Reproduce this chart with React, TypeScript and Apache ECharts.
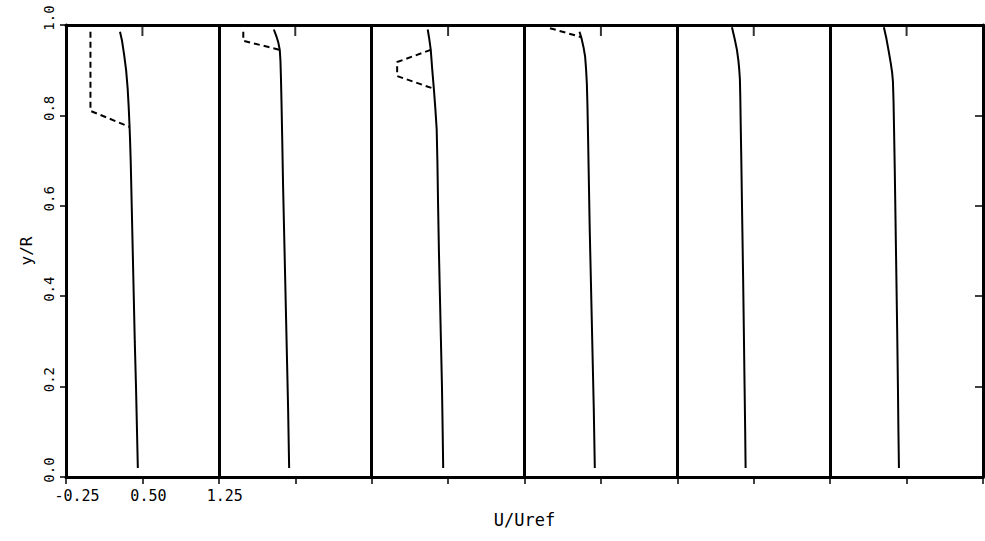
import React, { useEffect, useRef } from "react";
import * as echarts from "echarts";

// Velocity profiles U/Uref against y/R, one panel per station.
// Each panel spans 1.5 units of U/Uref; panel k is shifted right by k * PANEL_SPAN.
const PANEL_SPAN = 1.5;
const PANEL_COUNT = 6;
const U_MIN = -0.25;

// Solid profiles: [U/Uref, y/R]
const solid1 = [[0.28, 0.985], [0.3, 0.965], [0.32, 0.935], [0.34, 0.9], [0.355, 0.86], [0.365, 0.82], [0.372, 0.785], [0.378, 0.75], [0.385, 0.7], [0.395, 0.6], [0.405, 0.5], [0.415, 0.4], [0.425, 0.3], [0.437, 0.2], [0.447, 0.1], [0.455, 0.02]];
const solid2 = [[0.29, 0.99], [0.315, 0.975], [0.335, 0.96], [0.348, 0.945], [0.355, 0.92], [0.36, 0.88], [0.365, 0.83], [0.372, 0.75], [0.38, 0.65], [0.39, 0.55], [0.4, 0.45], [0.41, 0.35], [0.42, 0.25], [0.43, 0.15], [0.44, 0.02]];
const solid3 = [[0.3, 0.99], [0.315, 0.97], [0.33, 0.945], [0.345, 0.9], [0.36, 0.86], [0.375, 0.815], [0.388, 0.77], [0.395, 0.7], [0.402, 0.6], [0.41, 0.5], [0.42, 0.4], [0.43, 0.3], [0.44, 0.2], [0.447, 0.1], [0.452, 0.02]];
const solid4 = [[0.29, 0.985], [0.31, 0.97], [0.33, 0.95], [0.345, 0.93], [0.355, 0.9], [0.362, 0.87], [0.368, 0.82], [0.374, 0.75], [0.382, 0.65], [0.39, 0.55], [0.4, 0.45], [0.41, 0.35], [0.42, 0.25], [0.43, 0.15], [0.44, 0.02]];
const solid5 = [[0.286, 0.995], [0.312, 0.97], [0.335, 0.945], [0.35, 0.92], [0.358, 0.9], [0.364, 0.88], [0.368, 0.84], [0.372, 0.78], [0.378, 0.7], [0.386, 0.58], [0.395, 0.45], [0.403, 0.32], [0.41, 0.2], [0.416, 0.1], [0.42, 0.02]];
const solid6 = [[0.277, 0.995], [0.302, 0.97], [0.326, 0.94], [0.345, 0.915], [0.358, 0.895], [0.366, 0.875], [0.372, 0.83], [0.377, 0.77], [0.384, 0.68], [0.392, 0.56], [0.4, 0.44], [0.408, 0.32], [0.415, 0.2], [0.42, 0.1], [0.425, 0.02]];

// Dashed profiles near the wall
const dashed1 = [[-0.01, 0.985], [-0.01, 0.81], [0.37, 0.775]];
const dashed2 = [[-0.01, 0.985], [-0.01, 0.965], [0.35, 0.945]];
const dashed3 = [[0.33, 0.945], [0.0, 0.918], [0.0, 0.887], [0.36, 0.859]];
const dashed4 = [[0.0, 0.993], [0.31, 0.973]];

const solidProfiles = [solid1, solid2, solid3, solid4, solid5, solid6];
const dashedProfiles = [dashed1, dashed2, dashed3, dashed4];

const yTicks = [0, 0.2, 0.4, 0.6, 0.8, 1.0];
const rightTicks = [0.2, 0.4, 0.6, 0.8];
const labelledTicks = [-0.25, 0.5, 1.25];

const FONT = "DejaVu Sans Mono";
const FRAME = { color: "#000", width: 3 };
const TICK = { color: "#000", width: 1.5 };

// Place a panel-local U/Uref value on the shared axis (which starts at 0).
const shift = (pts: number[][], panel: number) =>
  pts.map(([u, y]) => [u - U_MIN + panel * PANEL_SPAN, y]);

export default function App() {
  const ref = useRef<HTMLDivElement>(null);

  useEffect(() => {
    if (!ref.current) return;
    const chart = echarts.init(ref.current, undefined, { renderer: "svg" });

    const total = PANEL_COUNT * PANEL_SPAN;
    const separators = Array.from({ length: PANEL_COUNT - 1 }, (_, i) => (i + 1) * PANEL_SPAN);
    const midTicks = Array.from({ length: PANEL_COUNT }, (_, i) => i * PANEL_SPAN + PANEL_SPAN / 2);

    const series: any[] = [];
    solidProfiles.forEach((p, i) => {
      series.push({
        type: "line",
        data: shift(p, i),
        symbol: "none",
        lineStyle: { color: "#000", width: 2 },
        silent: true,
        ...(i === 0
          ? {
              markLine: {
                silent: true,
                symbol: ["none", "none"],
                label: { show: false },
                lineStyle: { type: "solid", color: "#000", width: 3 },
                data: separators.map((x) => ({ xAxis: x })),
              },
            }
          : {}),
      });
    });
    dashedProfiles.forEach((p, i) => {
      series.push({
        type: "line",
        data: shift(p, i),
        symbol: "none",
        lineStyle: { color: "#000", width: 2, type: [6, 4] },
        silent: true,
      });
    });
    // inward tick marks hanging from the top edge at each panel's middle
    series.push({
      type: "scatter",
      data: midTicks.map((x) => [x, 1]),
      symbol: "rect",
      symbolSize: [2, 11],
      symbolOffset: [0, 5.5],
      itemStyle: { color: "#000" },
      clip: false,
      silent: true,
      z: 10,
    });

    const labelText = { fontFamily: FONT, fontSize: 15, color: "#000" };

    chart.setOption({
      animation: false,
      backgroundColor: "#fff",
      grid: { left: 66, right: 2, top: 25, bottom: 64 },
      xAxis: [
        {
          type: "value",
          position: "bottom",
          min: 0,
          max: total,
          interval: PANEL_SPAN / 2,
          name: "U/Uref",
          nameLocation: "middle",
          nameGap: 34,
          nameTextStyle: { fontFamily: FONT, fontSize: 17, color: "#000" },
          axisLine: { onZero: false, lineStyle: FRAME },
          axisTick: { show: true, length: 7, lineStyle: TICK },
          axisLabel: {
            ...labelText,
            margin: 11,
            customValues: labelledTicks.map((v) => v - U_MIN),
            formatter: (v: number) => {
              const s = (v + U_MIN).toFixed(2);
              return v + U_MIN < 0 ? `{neg|${s}}` : `{pos|${s}}`;
            },
            rich: {
              neg: { ...labelText, padding: [0, 0, 0, 22] },
              pos: { ...labelText, padding: [0, 0, 0, 12] },
            },
          },
          splitLine: { show: false },
        },
        {
          type: "value",
          position: "top",
          min: 0,
          max: total,
          interval: PANEL_SPAN / 2,
          axisLine: { onZero: false, lineStyle: FRAME },
          axisTick: { show: false },
          axisLabel: { show: false },
          splitLine: { show: false },
        },
      ],
      yAxis: [
        {
          type: "value",
          position: "left",
          min: 0,
          max: 1,
          interval: 0.2,
          name: "y/R",
          nameLocation: "middle",
          nameGap: 32,
          nameTextStyle: { fontFamily: FONT, fontSize: 16, color: "#000" },
          axisLine: { onZero: false, lineStyle: FRAME },
          axisTick: { show: true, length: 6, lineStyle: TICK },
          axisLabel: {
            fontFamily: FONT,
            fontSize: 14,
            color: "#000",
            rotate: 90,
            margin: 10,
            padding: [0, 0, 0, 14],
            customValues: yTicks,
            formatter: (v: number) => v.toFixed(1),
          },
          splitLine: { show: false },
        },
        {
          type: "value",
          position: "right",
          min: 0,
          max: 1,
          interval: 0.2,
          axisLine: { onZero: false, lineStyle: FRAME },
          axisTick: {
            show: true,
            inside: true,
            length: 8,
            customValues: rightTicks,
            lineStyle: TICK,
          },
          axisLabel: { show: false },
          splitLine: { show: false },
        },
      ],
      series,
    });

    return () => chart.dispose();
  }, []);

  return (
    <div
      ref={ref}
      style={{ position: "fixed", left: 0, top: 0, width: 985, height: 541, background: "#fff" }}
    />
  );
}
